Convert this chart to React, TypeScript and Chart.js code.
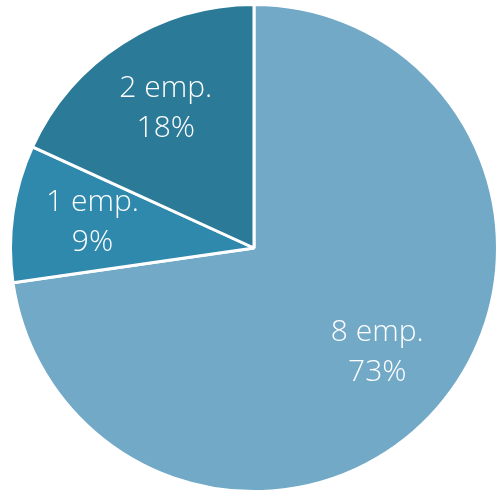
import React, { useEffect, useRef } from "react";
import { Chart, registerables } from "chart.js";

Chart.register(...registerables);

const categories = ["8 emp.", "1 emp.", "2 emp."];
const values = [8, 1, 2];
const percentLabels = ["73%", "9%", "18%"];
const colors = ["#71A9C7", "#2F89AD", "#2A7A98"];

const labelPlugin = {
  id: "sliceLabels",
  afterDatasetsDraw(chart: any) {
    const ctx = chart.ctx;
    const meta = chart.getDatasetMeta(0);
    ctx.save();
    ctx.fillStyle = "#FFFFFF";
    ctx.font = "300 30px 'Open Sans'";
    ctx.textAlign = "center";
    ctx.textBaseline = "middle";
    meta.data.forEach((arc: any, i: number) => {
      const p = arc.getProps(["x", "y", "startAngle", "endAngle", "outerRadius"], true);
      const mid = (p.startAngle + p.endAngle) / 2;
      const r = p.outerRadius * 0.67;
      const cx = p.x + Math.cos(mid) * r;
      const cy = p.y + Math.sin(mid) * r;
      ctx.fillText(categories[i], cx, cy - 22);
      ctx.fillText(percentLabels[i], cx, cy + 18);
    });
    ctx.restore();
  },
};

export default function App() {
  const ref = useRef<HTMLCanvasElement | null>(null);
  useEffect(() => {
    if (!ref.current) return;
    const chart = new Chart(ref.current, {
      type: "pie",
      data: {
        labels: categories,
        datasets: [
          {
            data: values,
            backgroundColor: colors,
            borderColor: "#FFFFFF",
            borderWidth: 3,
          },
        ],
      },
      options: {
        animation: false,
        responsive: true,
        maintainAspectRatio: false,
        layout: { padding: { left: 9, right: 2, top: 3, bottom: 4 } },
        plugins: {
          legend: { display: false },
          tooltip: { enabled: false },
          title: { display: false },
        },
      },
      plugins: [labelPlugin],
    });
    return () => chart.destroy();
  }, []);
  return (
    <div style={{ position: "absolute", left: 0, top: 0, width: 501, height: 497 }}>
      <canvas ref={ref} />
    </div>
  );
}
